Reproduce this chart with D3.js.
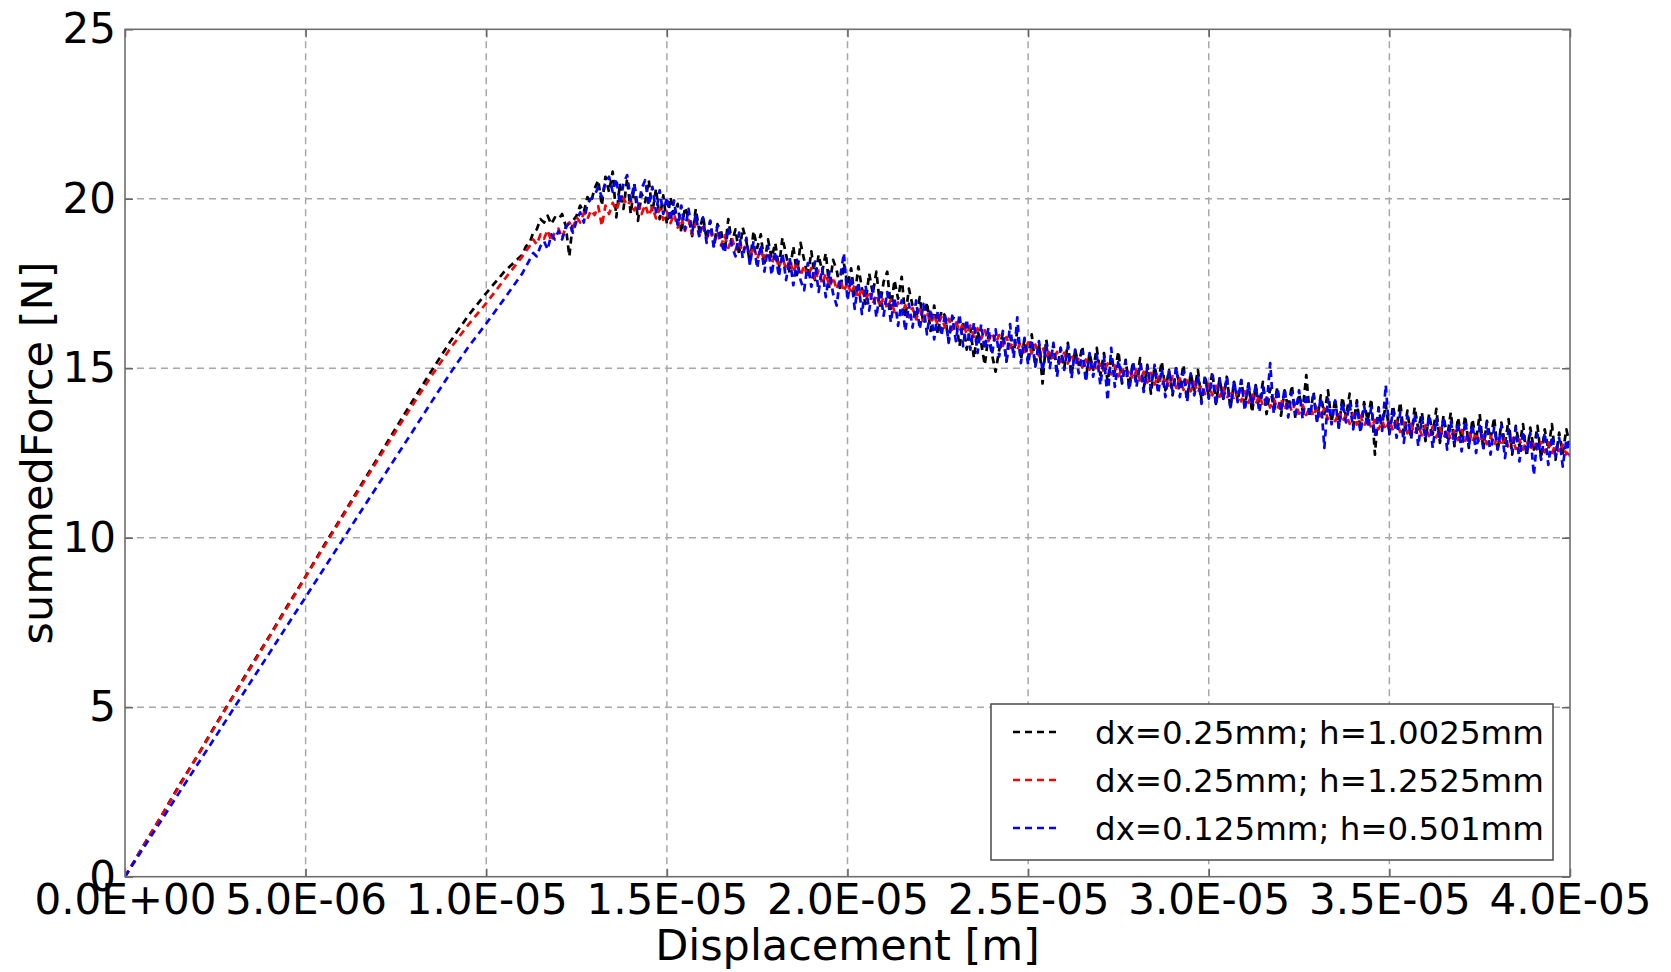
<!DOCTYPE html>
<html>
<head>
<meta charset="utf-8">
<script src="https://cdn.jsdelivr.net/npm/d3@7/dist/d3.min.js"></script>
<style>
  html, body { margin: 0; padding: 0; background: #fff; }
  svg { display: block; font-family: "DejaVu Sans", sans-serif; }
</style>
</head>
<body>
<svg id="chart" width="1671" height="972"></svg>
<script>
// Axis ticks (displacement in micrometres, shown in metres)
const xTicks = [0, 5, 10, 15, 20, 25, 30, 35, 40];
const xTickLabels = ["0.0E+00", "5.0E-06", "1.0E-05", "1.5E-05", "2.0E-05", "2.5E-05", "3.0E-05", "3.5E-05", "4.0E-05"];
const yTicks = [0, 5, 10, 15, 20, 25];
const yTickLabels = ["0", "5", "10", "15", "20", "25"];

const seriesNames = ["dx=0.25mm; h=1.0025mm", "dx=0.25mm; h=1.2525mm", "dx=0.125mm; h=0.501mm"];

// Elastic loading branch, sampled every 0.5 µm
const riseDisp = [0, 0.5, 1, 1.5, 2, 2.5, 3, 3.5, 4, 4.5, 5, 5.5, 6, 6.5, 7, 7.5, 8, 8.5, 9, 9.5, 10, 10.5];
const riseBlack = [0, 0.90, 1.78, 2.70, 3.56, 4.47, 5.34, 6.24, 7.10, 8.00, 8.86, 9.76, 10.62, 11.50, 12.36, 13.24, 14.10, 14.95, 15.78, 16.55, 17.22, 17.85];
const riseRed   = [0, 0.89, 1.78, 2.66, 3.55, 4.44, 5.32, 6.20, 7.08, 7.96, 8.84, 9.72, 10.58, 11.45, 12.30, 13.15, 13.98, 14.80, 15.58, 16.28, 16.92, 17.62];
const riseBlue  = [0, 0.83, 1.65, 2.48, 3.30, 4.12, 4.95, 5.78, 6.60, 7.43, 8.25, 9.08, 9.90, 10.73, 11.55, 12.38, 13.20, 14.03, 14.85, 15.62, 16.32, 17.05];

// Peak and softening branch, sampled every 0.1 µm from 11 µm to 40 µm (one row per µm)
const tailStart = 11.0;
const tailStep = 0.1;
const tailBlack = [
  18.35, 18.60, 18.70, 19.00, 19.10, 19.40, 19.30, 19.50, 19.25, 19.45,
  19.40, 19.55, 19.20, 18.30, 19.35, 19.50, 19.80, 19.60, 20.05, 19.90,
  20.30, 20.55, 19.80, 20.65, 20.20, 20.80, 19.45, 20.45, 19.70, 20.60,
  19.55, 20.40, 19.35, 20.15, 19.90, 20.55, 19.60, 20.30, 19.40, 20.10,
  19.25, 20.05, 19.55, 19.85, 19.00, 19.75, 19.45, 18.90, 19.70, 19.05,
  19.50, 18.80, 19.35, 18.60, 19.25, 19.05, 18.45, 19.40, 18.70, 19.10,
  18.35, 19.15, 18.75, 18.10, 19.05, 18.55, 18.95, 18.05, 18.80, 18.25,
  18.70, 17.95, 18.85, 18.35, 17.80, 18.60, 17.75, 18.70, 18.20, 17.70,
  18.45, 17.60, 18.35, 17.85, 18.40, 17.35, 18.20, 17.90, 17.30, 18.10,
  17.45, 17.95, 17.10, 18.00, 17.35, 16.90, 17.80, 17.20, 17.85, 16.85,
  17.55, 17.85, 16.75, 17.60, 17.05, 17.70, 16.50, 17.35, 16.85, 16.45,
  17.10, 16.30, 16.95, 16.10, 16.85, 16.00, 16.70, 16.55, 15.80, 16.50,
  16.45, 15.65, 16.35, 15.55, 16.20, 15.30, 16.10, 15.75, 15.10, 15.95,
  15.40, 14.90, 15.55, 16.05, 15.20, 15.95, 15.45, 16.10, 15.25, 15.85,
  15.30, 16.00, 15.05, 15.75, 14.55, 15.85, 15.20, 15.70, 14.95, 15.60,
  15.00, 15.75, 14.80, 15.55, 15.10, 15.65, 14.70, 15.45, 14.95, 15.60,
  14.80, 15.45, 14.60, 15.35, 14.90, 15.50, 14.55, 15.25, 14.45, 15.20,
  14.60, 15.30, 14.40, 15.10, 14.25, 15.05, 14.60, 15.20, 14.35, 14.95,
  14.20, 15.00, 14.45, 15.10, 14.10, 14.85, 14.35, 14.95, 14.05, 14.80,
  14.15, 14.90, 13.95, 14.70, 14.10, 14.75, 13.80, 14.60, 14.05, 14.65,
  13.90, 14.55, 13.70, 14.50, 13.95, 14.60, 13.65, 14.40, 13.85, 14.45,
  13.60, 14.35, 13.80, 14.50, 13.50, 14.25, 13.75, 14.80, 13.55, 14.30,
  13.45, 14.20, 13.65, 14.35, 13.40, 14.10, 13.25, 14.15, 13.55, 14.25,
  13.30, 14.05, 13.15, 14.00, 13.45, 14.10, 12.45, 13.85, 13.25, 13.95,
  13.10, 13.90, 13.25, 14.00, 13.05, 13.75, 12.90, 13.85, 13.20, 13.70,
  12.85, 13.65, 13.05, 13.80, 12.80, 13.60, 12.95, 13.70, 12.70, 13.55,
  12.90, 13.60, 12.65, 13.50, 12.85, 13.65, 12.60, 13.45, 12.90, 13.55,
  12.55, 13.40, 12.75, 13.50, 12.45, 13.30, 12.70, 13.35, 12.40, 13.25,
  12.60, 13.30, 12.35, 13.20, 12.60, 13.35, 12.30, 13.10, 12.50, 13.20,
  12.70
];
const tailRed = [
  18.30, 18.46, 18.60, 18.80, 18.65, 18.95, 18.82, 19.08, 18.74, 19.02,
  19.12, 18.84, 19.18, 19.30, 19.12, 19.46, 19.30, 19.58, 19.40, 19.66,
  19.52, 19.78, 19.20, 19.80, 19.55, 19.88, 19.66, 19.98, 20.02, 19.80,
  19.95, 19.66, 19.90, 19.55, 19.82, 19.50, 19.75, 19.42, 19.70, 19.38,
  19.62, 19.28, 19.55, 19.15, 19.46, 19.05, 19.38, 18.95, 19.28, 18.92,
  19.16, 18.82, 19.08, 18.70, 19.00, 18.62, 18.92, 18.55, 18.84, 18.48,
  18.76, 18.40, 18.68, 18.30, 18.60, 18.22, 18.52, 18.15, 18.44, 18.08,
  18.36, 17.98, 18.28, 17.90, 18.20, 17.82, 18.12, 17.74, 18.02, 17.68,
  17.96, 17.58, 17.88, 17.48, 17.80, 17.40, 17.70, 17.32, 17.62, 17.26,
  17.55, 17.18, 17.46, 17.06, 17.38, 16.98, 17.28, 16.90, 17.18, 16.82,
  17.10, 16.76, 17.02, 16.66, 16.94, 16.58, 16.86, 16.50, 16.78, 16.44,
  16.74, 16.42, 16.68, 16.34, 16.60, 16.26, 16.52, 16.20, 16.46, 16.14,
  16.40, 16.08, 16.34, 16.00, 16.26, 15.92, 16.18, 15.86, 16.12, 15.80,
  16.06, 15.74, 15.98, 15.66, 15.92, 15.60, 15.86, 15.54, 15.78, 15.48,
  15.76, 15.44, 15.70, 15.36, 15.62, 15.30, 15.56, 15.24, 15.48, 15.18,
  15.46, 15.14, 15.40, 15.08, 15.32, 15.02, 15.26, 14.96, 15.20, 14.90,
  15.20, 14.88, 15.14, 14.82, 15.08, 14.76, 15.02, 14.70, 14.98, 14.66,
  14.96, 14.64, 14.90, 14.58, 14.86, 14.52, 14.80, 14.48, 14.74, 14.44,
  14.76, 14.42, 14.70, 14.36, 14.64, 14.32, 14.58, 14.28, 14.52, 14.24,
  14.54, 14.20, 14.48, 14.16, 14.42, 14.10, 14.36, 14.06, 14.30, 14.02,
  14.32, 13.98, 14.26, 13.94, 14.20, 13.90, 14.14, 13.84, 14.10, 13.80,
  14.10, 13.76, 14.04, 13.72, 13.98, 13.66, 13.92, 13.62, 13.86, 13.58,
  13.88, 13.54, 13.82, 13.50, 13.76, 13.44, 13.70, 13.40, 13.64, 13.36,
  13.66, 13.34, 13.60, 13.30, 13.54, 13.24, 13.48, 13.20, 13.44, 13.18,
  13.48, 13.16, 13.44, 13.12, 13.40, 13.08, 13.36, 13.06, 13.30, 13.02,
  13.32, 13.00, 13.28, 12.96, 13.24, 12.94, 13.20, 12.90, 13.16, 12.88,
  13.18, 12.86, 13.14, 12.82, 13.10, 12.78, 13.04, 12.76, 13.00, 12.72,
  13.02, 12.70, 12.98, 12.66, 12.94, 12.62, 12.90, 12.60, 12.86, 12.56,
  12.86, 12.56, 12.82, 12.52, 12.80, 12.50, 12.76, 12.48, 12.74, 12.46,
  12.60
];
const tailBlue = [
  17.80, 18.00, 18.20, 18.40, 18.30, 18.60, 18.75, 18.50, 18.95, 18.80,
  19.05, 18.80, 19.15, 19.30, 19.00, 19.35, 19.60, 19.30, 19.85, 20.00,
  20.10, 20.35, 20.05, 20.50, 20.65, 20.20, 20.60, 19.85, 20.45, 20.70,
  19.95, 20.45, 19.70, 20.30, 20.55, 19.80, 20.35, 19.60, 20.25, 19.55,
  20.05, 19.35, 19.95, 19.20, 19.80, 19.10, 19.70, 19.00, 19.55, 18.85,
  19.45, 18.70, 19.35, 18.55, 19.20, 18.70, 18.40, 19.15, 18.60, 18.30,
  19.00, 18.25, 18.85, 18.05, 18.75, 17.95, 18.65, 17.85, 18.60, 17.75,
  18.45, 17.70, 18.40, 17.60, 18.25, 17.45, 18.20, 17.60, 17.30, 18.10,
  17.40, 18.15, 17.25, 17.95, 17.10, 17.85, 17.20, 16.85, 17.70, 18.40,
  17.00, 17.70, 16.75, 17.55, 16.60, 17.45, 16.70, 17.40, 16.50, 17.30,
  16.55, 17.25, 16.35, 17.10, 16.25, 17.00, 16.10, 16.90, 16.20, 17.00,
  16.15, 16.90, 16.00, 16.75, 15.85, 16.70, 15.95, 16.60, 15.75, 16.55,
  15.80, 16.60, 15.65, 16.45, 15.55, 16.35, 15.45, 16.30, 15.55, 16.20,
  15.40, 16.15, 15.35, 16.10, 15.20, 16.30, 15.30, 16.50, 15.15, 15.90,
  15.10, 15.85, 15.05, 15.80, 14.90, 15.70, 15.00, 15.75, 14.75, 15.60,
  14.95, 15.65, 14.70, 15.55, 14.85, 15.50, 14.60, 15.45, 14.75, 15.40,
  14.50, 15.35, 14.05, 15.60, 14.45, 15.25, 14.60, 15.20, 14.35, 15.15,
  14.45, 15.15, 14.30, 15.05, 14.40, 15.10, 14.25, 15.00, 14.15, 14.95,
  14.30, 15.05, 14.15, 14.90, 14.00, 14.85, 14.20, 14.80, 13.95, 14.70,
  14.10, 14.80, 13.90, 14.70, 14.05, 14.75, 13.85, 14.60, 14.00, 14.65,
  13.75, 14.55, 13.90, 14.50, 13.70, 14.45, 13.85, 15.15, 13.65, 14.40,
  13.70, 14.40, 13.55, 14.30, 13.65, 14.35, 13.50, 14.25, 13.60, 14.20,
  13.40, 14.15, 12.65, 14.10, 13.35, 14.05, 13.25, 14.00, 13.40, 13.95,
  13.20, 13.95, 13.10, 13.90, 13.25, 13.85, 13.00, 13.80, 13.15, 14.50,
  13.05, 13.75, 12.95, 13.70, 12.80, 13.60, 13.00, 13.65, 12.70, 13.55,
  12.90, 13.60, 12.65, 13.50, 12.85, 13.55, 12.60, 13.45, 12.75, 13.40,
  12.55, 13.45, 12.70, 13.35, 12.50, 13.30, 12.65, 13.40, 12.45, 13.25,
  12.60, 13.30, 12.35, 13.20, 12.55, 13.25, 12.25, 13.15, 12.50, 13.10,
  11.85, 13.05, 12.30, 13.10, 12.15, 13.00, 12.40, 12.95, 12.10, 12.90,
  12.40
];

const seriesColors = ["#000000", "#ff0000", "#0000ff"];

const plot = { left: 125, right: 1570, top: 29.3, bottom: 876.7 };

const svg = d3.select("#chart");

const x = d3.scaleLinear().domain([0, 40]).range([plot.left, plot.right]);
const y = d3.scaleLinear().domain([0, 25]).range([plot.bottom, plot.top]);

// Assemble each curve: loading branch followed by the sampled tail
function buildCurve(rise, tail) {
  const pts = riseDisp.map((d, i) => [d, rise[i]]);
  tail.forEach((f, i) => pts.push([tailStart + i * tailStep, f]));
  return pts;
}
const curves = [
  buildCurve(riseBlack, tailBlack),
  buildCurve(riseRed, tailRed),
  buildCurve(riseBlue, tailBlue)
];

// Grid
const grid = svg.append("g").attr("class", "grid")
  .attr("stroke", "#a8a8a8").attr("stroke-width", 1.5).attr("stroke-dasharray", "7,5");
grid.selectAll("line.gx").data(xTicks.slice(1, -1)).join("line")
  .attr("x1", d => x(d)).attr("x2", d => x(d))
  .attr("y1", plot.top).attr("y2", plot.bottom);
grid.selectAll("line.gy").data(yTicks.slice(1, -1)).join("line")
  .attr("x1", plot.left).attr("x2", plot.right)
  .attr("y1", d => y(d)).attr("y2", d => y(d));

// Curves
svg.append("clipPath").attr("id", "plotclip").append("rect")
  .attr("x", plot.left).attr("y", plot.top)
  .attr("width", plot.right - plot.left).attr("height", plot.bottom - plot.top);

const line = d3.line().x(d => x(d[0])).y(d => y(d[1]));
svg.append("g").attr("clip-path", "url(#plotclip)")
  .selectAll("path").data(curves).join("path")
  .attr("d", line)
  .attr("fill", "none")
  .attr("stroke", (d, i) => seriesColors[i])
  .attr("stroke-width", 2.7)
  .attr("stroke-dasharray", "7,5")
  .attr("stroke-linejoin", "round");

// Axes with inward ticks
const fontFamily = '"DejaVu Sans", sans-serif';
function styleAxis(g, size) {
  g.select(".domain").remove();
  g.selectAll(".tick line").attr("stroke", "#666").attr("stroke-width", 1.5);
  g.selectAll(".tick text").attr("fill", "#000").attr("font-size", size).attr("font-family", fontFamily);
}

svg.append("g").attr("transform", `translate(0,${plot.bottom})`)
  .call(d3.axisBottom(x).tickValues(xTicks).tickFormat((d, i) => xTickLabels[i])
    .tickSizeInner(-8).tickSizeOuter(0).tickPadding(7))
  .call(g => styleAxis(g, 42));

svg.append("g").attr("transform", `translate(${plot.left},0)`)
  .call(d3.axisLeft(y).tickValues(yTicks).tickFormat((d, i) => yTickLabels[i])
    .tickSizeInner(-8).tickSizeOuter(0).tickPadding(9))
  .call(g => styleAxis(g, 42));

svg.append("g").attr("transform", `translate(0,${plot.top})`)
  .call(d3.axisTop(x).tickValues(xTicks).tickFormat(() => "").tickSizeInner(-8).tickSizeOuter(0))
  .call(g => styleAxis(g, 42));

svg.append("g").attr("transform", `translate(${plot.right},0)`)
  .call(d3.axisRight(y).tickValues(yTicks).tickFormat(() => "").tickSizeInner(-8).tickSizeOuter(0))
  .call(g => styleAxis(g, 42));

// Frame
svg.append("rect")
  .attr("x", plot.left).attr("y", plot.top)
  .attr("width", plot.right - plot.left).attr("height", plot.bottom - plot.top)
  .attr("fill", "none").attr("stroke", "#6e6e6e").attr("stroke-width", 1.6);

// Axis titles
svg.append("text")
  .attr("x", (plot.left + plot.right) / 2).attr("y", 960)
  .attr("text-anchor", "middle").attr("font-size", 43).attr("font-family", fontFamily)
  .text("Displacement [m]");

svg.append("text")
  .attr("transform", `translate(52,${(plot.top + plot.bottom) / 2}) rotate(-90)`)
  .attr("text-anchor", "middle").attr("font-size", 43).attr("font-family", fontFamily)
  .text("summedForce [N]");

// Legend
const legend = svg.append("g").attr("class", "legend");
legend.append("rect")
  .attr("x", 991).attr("y", 704).attr("width", 562).attr("height", 156)
  .attr("fill", "#fff").attr("stroke", "#4a4a4a").attr("stroke-width", 1.5);
const rows = legend.selectAll("g.row").data(seriesNames).join("g")
  .attr("class", "row")
  .attr("transform", (d, i) => `translate(0,${732 + i * 48})`);
rows.append("line")
  .attr("x1", 1013).attr("x2", 1059).attr("y1", 0).attr("y2", 0)
  .attr("stroke", (d, i) => seriesColors[i]).attr("stroke-width", 2.7)
  .attr("stroke-dasharray", "7,5");
rows.append("text")
  .attr("x", 1095).attr("y", 0).attr("dy", "0.36em")
  .attr("font-size", 32.5).attr("font-family", fontFamily).attr("fill", "#000")
  .text(d => d);
</script>
</body>
</html>
